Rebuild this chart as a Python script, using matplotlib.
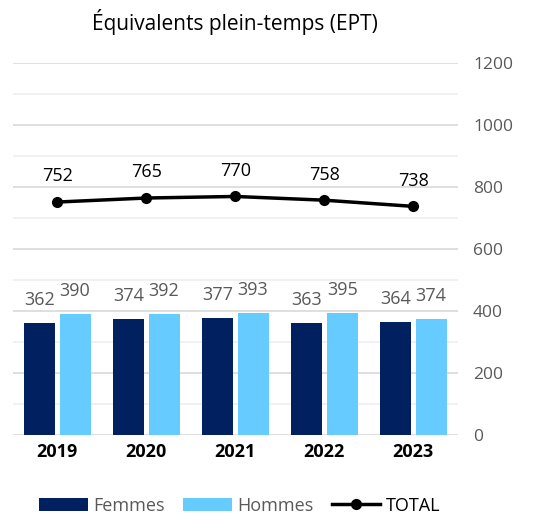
import numpy as np
import matplotlib
matplotlib.use("Agg")
import matplotlib.pyplot as plt
from matplotlib.ticker import MultipleLocator

years = ["2019", "2020", "2021", "2022", "2023"]
femmes = [362, 374, 377, 363, 364]
hommes = [390, 392, 393, 395, 374]
total = [752, 765, 770, 758, 738]

plt.rcParams["font.family"] = ["Open Sans", "DejaVu Sans"]

fig = plt.figure(figsize=(5.33, 5.18), dpi=100)
ax = fig.add_axes([0.024, 0.160, 0.835, 0.718])

x = np.arange(len(years))
w = 0.35
off = 0.2
b1 = ax.bar(x - off, femmes, w, color="#002060", label="Femmes", zorder=2)
b2 = ax.bar(x + off, hommes, w, color="#66CCFF", label="Hommes", zorder=2)
ln, = ax.plot(x, total, color="black", lw=2.5, marker="o", ms=7, label="TOTAL", zorder=3)

for xi, v in zip(x - off, femmes):
    ax.annotate(str(v), (xi, v), xytext=(0, 10), textcoords="offset points",
                ha="center", va="bottom", fontsize=13, color="#595959")
for xi, v in zip(x + off, hommes):
    ax.annotate(str(v), (xi, v), xytext=(0, 10), textcoords="offset points",
                ha="center", va="bottom", fontsize=13, color="#595959")
for xi, v in zip(x, total):
    ax.annotate(str(v), (xi, v), xytext=(0, 12), textcoords="offset points",
                ha="center", va="bottom", fontsize=13, color="black")

ax.set_xlim(-0.5, len(years) - 0.5)
ax.set_ylim(0, 1200)
ax.yaxis.set_major_locator(MultipleLocator(200))
ax.yaxis.set_minor_locator(MultipleLocator(100))
ax.yaxis.tick_right()
ax.tick_params(axis="y", which="both", length=0, labelsize=12.5, labelcolor="#595959", pad=11)
ax.tick_params(axis="x", length=0, labelsize=13, pad=6)
ax.set_xticks(x)
ax.set_xticklabels(years, fontweight="bold")
ax.grid(axis="y", which="major", color="#D9D9D9", lw=1.2, zorder=0)
ax.grid(axis="y", which="minor", color="#EFEFEF", lw=1.2, zorder=0)
ax.set_axisbelow(True)
for s in ax.spines.values():
    s.set_visible(False)

ax.set_title("Équivalents plein-temps (EPT)", fontsize=15, pad=24)

fig.legend([b1, b2, ln], ["Femmes", "Hommes", "TOTAL"], loc="lower center",
           bbox_to_anchor=(0.45, -0.025), ncol=3, frameon=False,
           fontsize=13, handlelength=2.7, handleheight=0.8, columnspacing=1.0,
           labelcolor=["#595959", "#595959", "black"], handletextpad=0.3)

fig.savefig("out.png", dpi=100)
